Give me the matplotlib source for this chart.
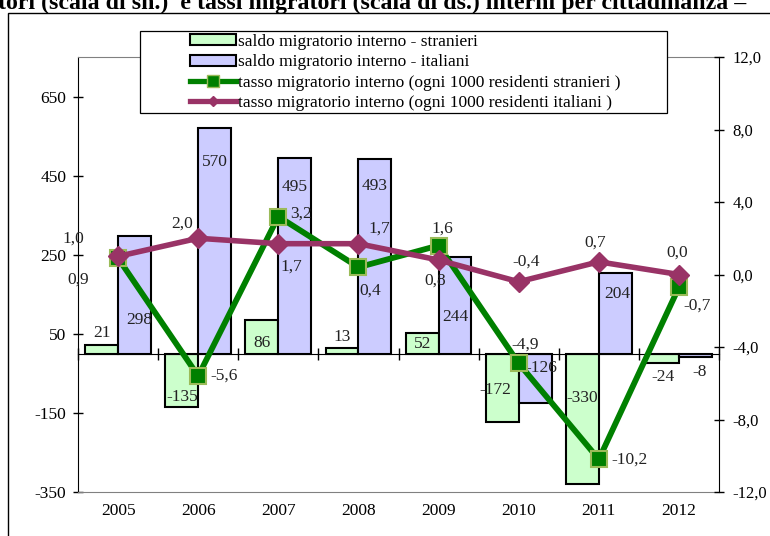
import numpy as np
import matplotlib
matplotlib.use('Agg')
import matplotlib.pyplot as plt
from matplotlib.patches import Rectangle, Patch
from matplotlib.lines import Line2D
from matplotlib.ticker import FuncFormatter, FixedLocator

plt.rcParams['font.family'] = ['Liberation Serif', 'DejaVu Serif']
plt.rcParams['axes.unicode_minus'] = False

# Dati
anni = ['2005', '2006', '2007', '2008', '2009', '2010', '2011', '2012']
saldo_stranieri = [21, -135, 86, 13, 52, -172, -330, -24]
saldo_italiani = [298, 570, 495, 493, 244, -126, 204, -8]
tasso_stranieri = [0.9, -5.6, 3.2, 0.4, 1.6, -4.9, -10.2, -0.7]
tasso_italiani = [1.0, 2.0, 1.7, 1.7, 0.8, -0.4, 0.7, 0.0]

# posizione delle etichette (scala sn. per le barre, offset in pixel per le linee)
pos_lab_stranieri = [(0.0, 52), (0.0, -110), (0.0, 27), (0.0, 41), (0.0, 24), (-0.09, -92), (0.0, -112), (0.0, -59)]
pos_lab_italiani = [(0.06, 85), (0.0, 484), (0.0, 421), (0.0, 424), (0.0, 93), (0.08, -36), (0.02, 151), (0.05, -46)]
off_tasso_stranieri = [(-40, -21), (26, 0), (23, 3), (12, -23), (4, 17), (6, 19), (31, 0), (18, -18)]
off_tasso_italiani = [(-45, 18), (-16, 15), (13, -23), (21, 15), (-3, -21), (7, 20), (-4, 19), (-2, 22)]

verde_barra = '#CCFFCC'
blu_barra = '#CCCCFF'
verde = '#008000'
viola = '#993366'
fs = 12.5

W, H = 770, 536
fig = plt.figure(figsize=(W / 100, H / 100), dpi=100)
ax = fig.add_axes([78 / W, (H - 492) / H, 641 / W, 435 / H])
ax2 = ax.twinx()

x = np.arange(len(anni))
w = 0.41

# barre
ax.bar(x - w / 2, saldo_stranieri, w, color=verde_barra, edgecolor='black', linewidth=1.5, zorder=2)
ax.bar(x + w / 2, saldo_italiani, w, color=blu_barra, edgecolor='black', linewidth=1.5, zorder=2)

for i in range(len(anni)):
    dx, yl = pos_lab_stranieri[i]
    ax.text(x[i] - w / 2 + dx, yl, str(saldo_stranieri[i]), ha='center', va='center', fontsize=fs, color='#222222', zorder=3)
    dx, yl = pos_lab_italiani[i]
    ax.text(x[i] + w / 2 + dx, yl, str(saldo_italiani[i]), ha='center', va='center', fontsize=fs, color='#222222', zorder=3)

ax.set_xlim(-0.5, 7.5)
ax.set_ylim(-350, 750)
ax.set_yticks([-350, -150, 50, 250, 450, 650])

# linee (scala ds.)
ax2.plot(x, tasso_stranieri, color=verde, lw=4.2, marker='s', markersize=11,
         markerfacecolor=verde, markeredgecolor='#9BBB59', markeredgewidth=1.5, zorder=3)
ax2.plot(x, tasso_italiani, color=viola, lw=4.0, marker='D', markersize=10,
         markerfacecolor=viola, markeredgecolor=viola, zorder=4)

def virgola(v):
    return ('%.1f' % v).replace('.', ',')

for i in range(len(anni)):
    ax2.annotate(virgola(tasso_stranieri[i]), (x[i], tasso_stranieri[i]), xytext=off_tasso_stranieri[i],
                 textcoords='offset pixels', ha='center', va='center', fontsize=fs, color='#222222', zorder=5)
    ax2.annotate(virgola(tasso_italiani[i]), (x[i], tasso_italiani[i]), xytext=off_tasso_italiani[i],
                 textcoords='offset pixels', ha='center', va='center', fontsize=fs, color='#222222', zorder=5)

ax2.set_ylim(-12, 12)
ax2.set_yticks(np.arange(-12, 13, 4))
ax2.yaxis.set_major_formatter(FuncFormatter(lambda v, p: virgola(v)))

# assi: etichette anni in basso, tacche sulla linea dello zero
ax.xaxis.set_major_locator(FixedLocator(x))
ax.xaxis.set_minor_locator(FixedLocator(np.arange(-0.5, 8, 1)))
ax.set_xticklabels(anni)
ax.tick_params(axis='x', which='both', length=0, labelsize=fs, pad=8)
ax.tick_params(axis='y', direction='inout', length=7, width=1, labelsize=fs, pad=5)

ax2.xaxis.set_visible(True)
ax2.spines['bottom'].set_position(('axes', 350 / 1100))
ax2.tick_params(axis='x', which='major', length=0, labelbottom=False)
ax2.tick_params(axis='x', which='minor', direction='inout', length=8, width=1, labelbottom=False)
ax2.tick_params(axis='y', direction='inout', length=7, width=1, labelsize=12, pad=6)

for s in ['top', 'bottom']:
    ax.spines[s].set_color('#808080')
ax.spines['right'].set_visible(False)
ax2.spines['top'].set_visible(False)
ax2.spines['left'].set_visible(False)
ax2.spines['bottom'].set_color('black')
ax2.spines['right'].set_color('black')

# legenda
box = Rectangle((140 / W, (H - 113) / H), 527 / W, 82 / H, transform=fig.transFigure,
                facecolor='white', edgecolor='black', linewidth=0.9, zorder=4)
fig.patches.append(box)
handles = [
    Patch(facecolor=verde_barra, edgecolor='black', linewidth=1.5),
    Patch(facecolor=blu_barra, edgecolor='black', linewidth=1.5),
    Line2D([], [], color=verde, lw=3.8, marker='s', markersize=8, markerfacecolor=verde, markeredgecolor='#9BBB59'),
    Line2D([], [], color=viola, lw=3.8, marker='D', markersize=5, markerfacecolor=viola),
]
labels = ['saldo migratorio interno - stranieri',
          'saldo migratorio interno - italiani',
          'tasso migratorio interno (ogni 1000 residenti stranieri )',
          'tasso migratorio interno (ogni 1000 residenti italiani )']
leg = fig.legend(handles, labels, loc='upper left', bbox_to_anchor=(190 / W, 1 - 34 / H), frameon=False,
                 fontsize=fs, handlelength=2.65, handleheight=0.6, handletextpad=0.12,
                 labelspacing=0.25, borderpad=0, borderaxespad=0)
leg.set_zorder(5)

# cornice e titolo (tagliato in alto)
fig.patches.append(Rectangle((8 / W, -0.1), 1.2, 1 - 13 / H + 0.1, transform=fig.transFigure,
                             fill=False, edgecolor='black', linewidth=1, zorder=1))
fig.text(-2 / W, 1 - 9 / H, 'tori (scala di sn.)  e tassi migratori (scala di ds.) interni per cittadinanza \u2013',
         fontsize=17.2, fontweight='bold', ha='left', va='baseline')

fig.savefig('out.png', dpi=100)
